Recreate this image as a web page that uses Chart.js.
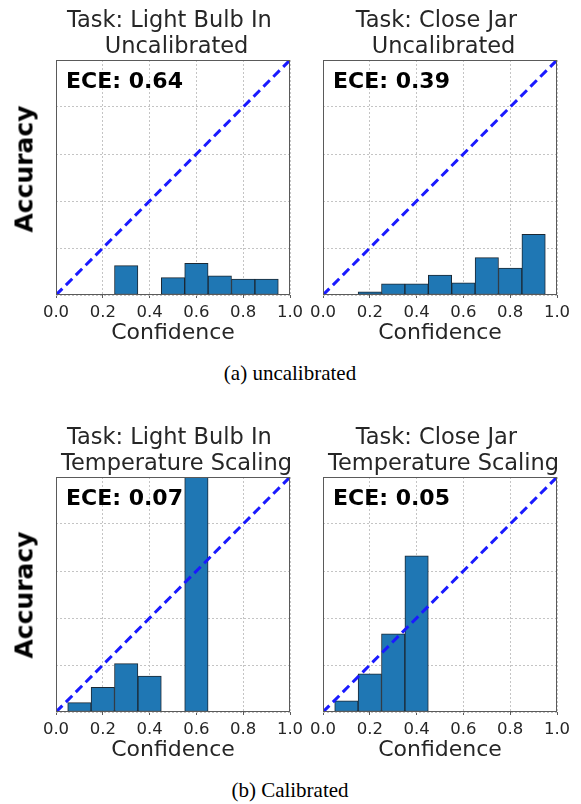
<!DOCTYPE html>
<html>
<head>
<meta charset="utf-8">
<script src="https://cdn.jsdelivr.net/npm/chart.js@4"></script>
<style>
  body { margin: 0; background: #fff; }
  #page { position: relative; width: 581px; height: 804px; overflow: hidden; font-family: 'DejaVu Sans', sans-serif; color: #262626; }
  canvas { position: absolute; }
  .title { position: absolute; font-size: 22.5px; line-height: 26.5px; white-space: pre; text-align: center; width: 300px; }
  .ece { position: absolute; font-size: 22px; line-height: 26px; font-weight: bold; color: #000; white-space: pre; }
  .ylab { position: absolute; font-size: 25px; line-height: 25px; font-weight: bold; color: #000; white-space: pre; transform: translate(-50%, -50%) rotate(-90deg); }
  .xlab { position: absolute; font-size: 22px; line-height: 26px; text-align: center; width: 200px; }
  .cap { position: absolute; font-family: 'Liberation Serif', 'Times New Roman', serif; font-size: 21px; line-height: 24px; color: #000; text-align: center; width: 300px; left: 140px; }
</style>
</head>
<body>
<div id="page"></div>
<script>
// bin centres of the reliability histograms
const binCenters = [0.1, 0.2, 0.3, 0.4, 0.5, 0.6, 0.7, 0.8, 0.9];
// accuracy per bin (null = empty bin)
const lightBulbUncal = [null, null, 0.125, null, 0.074, 0.135, 0.082, 0.068, 0.068];
const closeJarUncal  = [null, 0.013, 0.048, 0.048, 0.085, 0.052, 0.159, 0.115, 0.258];
const lightBulbTemp  = [0.04, 0.105, 0.206, 0.153, null, 1.0, null, null, null];
const closeJarTemp   = [0.048, 0.162, 0.333, 0.665, null, null, null, null, null];
// perfect calibration diagonal
const diagonal = [0, 1];
const xTicks = [0, 0.2, 0.4, 0.6, 0.8, 1.0];

const titles = [
  'Task: Light Bulb In \n Uncalibrated',
  'Task: Close Jar \n Uncalibrated',
  'Task: Light Bulb In \n Temperature Scaling',
  'Task: Close Jar \n Temperature Scaling'
];
const eceLabels = ['ECE: 0.64', 'ECE: 0.39', 'ECE: 0.07', 'ECE: 0.05'];
const series = [lightBulbUncal, closeJarUncal, lightBulbTemp, closeJarTemp];
const captions = ['(a) uncalibrated', '(b) Calibrated'];

Chart.defaults.font.family = "'DejaVu Sans', sans-serif";

// layout of the four panels (plot area in page pixels)
const panels = [
  { plotLeft: 56,  plotRight: 290, plotTop: 60,  canvasLeft: 0,   canvasWidth: 310, ylab: true, ylabY: 169 },
  { plotLeft: 323, plotRight: 557, plotTop: 60,  canvasLeft: 300, canvasWidth: 281, ylab: false },
  { plotLeft: 56,  plotRight: 290, plotTop: 477, canvasLeft: 0,   canvasWidth: 310, ylab: true, ylabY: 595 },
  { plotLeft: 323, plotRight: 557, plotTop: 477, canvasLeft: 300, canvasWidth: 281, ylab: false }
];
const plotH = 235;

const framePlugin = {
  id: 'frame',
  afterDraw(chart) {
    const a = chart.chartArea, ctx = chart.ctx;
    ctx.save();
    ctx.strokeStyle = '#5a5a5a';
    ctx.lineWidth = 1;
    ctx.strokeRect(Math.round(a.left) + 0.5, Math.round(a.top) + 0.5,
      Math.round(a.right - a.left) - 1, Math.round(a.bottom - a.top) - 1);
    ctx.restore();
  }
};

const page = document.getElementById('page');

panels.forEach((p, i) => {
  const padTop = 10, axisH = 40;
  const cv = document.createElement('canvas');
  cv.width = p.canvasWidth;
  cv.height = plotH + padTop + axisH;
  cv.style.left = p.canvasLeft + 'px';
  cv.style.top = (p.plotTop - padTop) + 'px';
  page.appendChild(cv);

  const yAxisW = p.plotLeft - p.canvasLeft;
  new Chart(cv.getContext('2d'), {
    type: 'bar',
    data: {
      datasets: [
        {
          type: 'line',
          data: diagonal.map(v => ({ x: v, y: v })),
          borderColor: '#1a1aff',
          borderWidth: 3,
          borderDash: [9, 5],
          pointRadius: 0,
          fill: false,
          order: 0
        },
        {
          type: 'bar',
          data: binCenters.map((c, k) => ({ x: c, y: series[i][k] })),
          backgroundColor: '#1f77b4',
          borderColor: '#1c2833',
          borderWidth: 1,
          borderSkipped: false,
          barPercentage: 1,
          categoryPercentage: 1,
          order: 1
        }
      ]
    },
    options: {
      responsive: false,
      animation: false,
      devicePixelRatio: 1,
      layout: { padding: { top: padTop, right: p.canvasWidth - (p.plotRight - p.canvasLeft), left: 0, bottom: 0 } },
      plugins: { legend: { display: false }, tooltip: { enabled: false } },
      scales: {
        x: {
          type: 'linear',
          min: 0, max: 1,
          offset: false,
          grid: { offset: false, color: '#c4c4c4', drawTicks: true, tickLength: 3, tickColor: '#5a5a5a' },
          border: { display: false, dash: [2, 2] },
          afterBuildTicks: s => { s.ticks = xTicks.map(v => ({ value: v })); },
          ticks: { padding: 5, color: '#262626', font: { size: 16.5 }, maxRotation: 0, autoSkip: false,
                   callback: v => Number(v).toFixed(1) },
          afterFit: s => { s.height = axisH; }
        },
        y: {
          min: 0, max: 1,
          grid: { color: '#c4c4c4', drawTicks: false },
          border: { display: false, dash: [2, 2] },
          ticks: { display: false, stepSize: 0.2 },
          afterFit: s => { s.width = yAxisW; }
        }
      }
    },
    plugins: [framePlugin]
  });

  const cx = (p.plotLeft + p.plotRight) / 2;
  const t = document.createElement('div');
  t.className = 'title';
  t.textContent = titles[i];
  t.style.left = (cx - 150) + 'px';
  t.style.top = (p.plotTop - 54.4) + 'px';
  page.appendChild(t);

  const e = document.createElement('div');
  e.className = 'ece';
  e.textContent = eceLabels[i];
  e.style.left = (p.plotLeft + 10) + 'px';
  e.style.top = (p.plotTop + 8.4) + 'px';
  page.appendChild(e);

  const xl = document.createElement('div');
  xl.className = 'xlab';
  xl.textContent = 'Confidence';
  xl.style.left = (cx - 100) + 'px';
  xl.style.top = (p.plotTop + plotH + 24.4) + 'px';
  page.appendChild(xl);

  if (p.ylab) {
    const yl = document.createElement('div');
    yl.className = 'ylab';
    yl.textContent = 'Accuracy';
    yl.style.left = '23.6px';
    yl.style.top = p.ylabY + 'px';
    page.appendChild(yl);
  }
});

captions.forEach((c, i) => {
  const d = document.createElement('div');
  d.className = 'cap';
  d.textContent = c;
  d.style.top = (i === 0 ? 360.9 : 777.9) + 'px';
  page.appendChild(d);
});
</script>
</body>
</html>
